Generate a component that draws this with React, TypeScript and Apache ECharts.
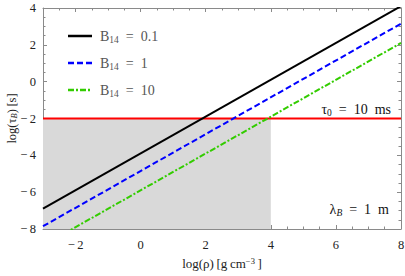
import React, { useEffect, useRef } from "react";
import * as echarts from "echarts";

const xEnds = [-3, 8];
const seriesNames = ["0.1", "1", "10"];
const seriesColors = ["#000000", "#0000ff", "#33cc00"];
const blackY = [-6.9, 4.1];
const blueY = [-7.85, 3.15];
const greenY = [-8.9, 2.1];
const tau0 = -2;
const shadeX = [-3, 4];
const shadeY = [-8, -2];
const xMajor = [-2, 0, 2, 4, 6, 8];

const FONT = "'Liberation Serif', 'Times New Roman', serif";
const SP = "\u2002";

export default function App() {
  const ref = useRef<HTMLDivElement>(null);
  useEffect(() => {
    if (!ref.current) return;
    const chart = echarts.init(ref.current, null, { renderer: "svg" });
    const axisColor = "#8a8a8a";
    const labelStyle = { fontFamily: FONT, fontSize: 12.5, color: "#222" };
    const mkPts = (ys: number[]) => xEnds.map((x, i) => [x, ys[i]]);
    const dashes: any[] = ["solid", [6, 3], [6, 2, 2, 2]];
    const fmt = (v: number) => (v < 0 ? "−\u2009" + Math.abs(v) : String(v));
    const baseX = {
      type: "value",
      min: -3,
      max: 8,
      splitLine: { show: false },
    };
    const legendGraphics: any[] = [];
    seriesNames.forEach((n, i) => {
      const y = 36 + i * 27;
      legendGraphics.push({
        type: "line",
        z: 10,
        shape: { x1: 68, y1: y, x2: 92, y2: y },
        style: { stroke: seriesColors[i], lineWidth: 2.5, lineDash: dashes[i] === "solid" ? null : dashes[i] },
      });
      legendGraphics.push({
        type: "text",
        z: 10,
        x: 100,
        y: y,
        style: {
          text: "B{sub|14}" + SP + "=" + SP + n,
          fontFamily: FONT,
          fontSize: 14,
          fill: "#555",
          verticalAlign: "middle",
          rich: { sub: { fontFamily: FONT, fontSize: 9.5, fill: "#555", verticalAlign: "bottom", padding: [7, 0, 0, 0] } },
        },
      });
    });
    const option: any = {
      animation: false,
      grid: { left: 43, right: 4, top: 8, bottom: 47, containLabel: false, outerBoundsMode: "none" },
      xAxis: [
        {
          ...baseX,
          position: "bottom",
          name: "log(ρ)\u2009[g\u2009cm{sup|−3}\u2009]",
          nameLocation: "middle",
          nameGap: 27,
          nameMoveOverlap: false,
          nameTextStyle: {
            ...labelStyle,
            fontSize: 13,
            rich: { sup: { fontFamily: FONT, fontSize: 8.5, color: "#222", verticalAlign: "top", padding: [0, 0, 6, 0] } },
          },
          axisLine: { show: true, onZero: false, lineStyle: { color: axisColor, width: 1 } },
          axisTick: { show: true, inside: true, length: 4, customValues: xMajor, lineStyle: { color: axisColor } },
          axisLabel: { show: true, customValues: xMajor, margin: 9, ...labelStyle, formatter: fmt },
        },
        {
          ...baseX,
          position: "bottom",
          interval: 0.5,
          axisLine: { show: false, onZero: false },
          axisTick: { show: true, inside: true, length: 2.5, lineStyle: { color: axisColor } },
          axisLabel: { show: false },
        },
        {
          ...baseX,
          position: "top",
          axisLine: { show: true, onZero: false, lineStyle: { color: axisColor, width: 1 } },
          axisTick: { show: true, inside: true, length: 4, customValues: xMajor, lineStyle: { color: axisColor } },
          axisLabel: { show: false, customValues: xMajor },
        },
        {
          ...baseX,
          position: "top",
          interval: 0.5,
          axisLine: { show: false, onZero: false },
          axisTick: { show: true, inside: true, length: 2.5, lineStyle: { color: axisColor } },
          axisLabel: { show: false },
        },
      ],
      yAxis: [
        {
          type: "value",
          min: -8,
          max: 4,
          interval: 2,
          position: "left",
          name: "log(τ{i|B})\u2009[s]",
          nameLocation: "middle",
          nameGap: 25,
          nameMoveOverlap: false,
          nameTextStyle: {
            ...labelStyle,
            fontSize: 12.5,
            rich: { i: { fontFamily: FONT, fontSize: 8.5, fontStyle: "italic", color: "#222", verticalAlign: "bottom", padding: [3, 0, 0, 0] } },
          },
          splitLine: { show: false },
          axisLine: { show: true, onZero: false, lineStyle: { color: axisColor, width: 1 } },
          axisTick: { show: true, inside: true, length: 4, lineStyle: { color: axisColor } },
          minorTick: { show: true, splitNumber: 4, length: 2.5, lineStyle: { color: axisColor } },
          axisLabel: { show: true, margin: 7, ...labelStyle, formatter: fmt },
        },
        {
          type: "value",
          min: -8,
          max: 4,
          interval: 2,
          position: "right",
          splitLine: { show: false },
          axisLine: { show: true, onZero: false, lineStyle: { color: axisColor, width: 1 } },
          axisTick: { show: true, inside: true, length: 4, lineStyle: { color: axisColor } },
          minorTick: { show: true, splitNumber: 4, length: 2.5, lineStyle: { color: axisColor } },
          axisLabel: { show: false },
        },
      ],
      series: [
        {
          type: "line",
          name: "shade",
          data: [],
          z: 1,
          silent: true,
          markArea: {
            silent: true,
            itemStyle: { color: "#d9d9d9" },
            data: [[{ coord: [shadeX[0], shadeY[0]] }, { coord: [shadeX[1], shadeY[1]] }]],
          },
        },
        {
          type: "line",
          name: "tau0",
          data: mkPts([tau0, tau0]),
          symbol: "none",
          z: 3,
          lineStyle: { color: "#ff0000", width: 2 },
        },
        ...[blackY, blueY, greenY].map((ys, i) => ({
          type: "line",
          name: "B14 = " + seriesNames[i],
          data: mkPts(ys),
          symbol: "none",
          z: 4,
          itemStyle: { color: seriesColors[i] },
          lineStyle: { color: seriesColors[i], width: 2, type: dashes[i] },
        })),
      ],
      graphic: [
        ...legendGraphics,
        {
          type: "text",
          right: 14,
          top: 102,
          z: 10,
          style: {
            text: "τ{sub|0}" + SP + "=" + SP + "10" + SP + "ms",
            fontFamily: FONT,
            fontSize: 14,
            fill: "#111",
            rich: { sub: { fontFamily: FONT, fontSize: 9.5, fill: "#111", verticalAlign: "bottom", padding: [7, 0, 0, 0] } },
          },
        },
        {
          type: "text",
          right: 16,
          top: 202,
          z: 10,
          style: {
            text: "λ{sub|B}" + SP + "=" + SP + "1" + SP + "m",
            fontFamily: FONT,
            fontSize: 14,
            fill: "#111",
            rich: { sub: { fontFamily: FONT, fontSize: 9.5, fontStyle: "italic", fill: "#111", verticalAlign: "bottom", padding: [7, 0, 0, 0] } },
          },
        },
      ],
    };
    chart.setOption(option);
    return () => chart.dispose();
  }, []);
  return <div ref={ref} style={{ width: 405, height: 276, position: "absolute", left: 0, top: 0 }} />;
}
